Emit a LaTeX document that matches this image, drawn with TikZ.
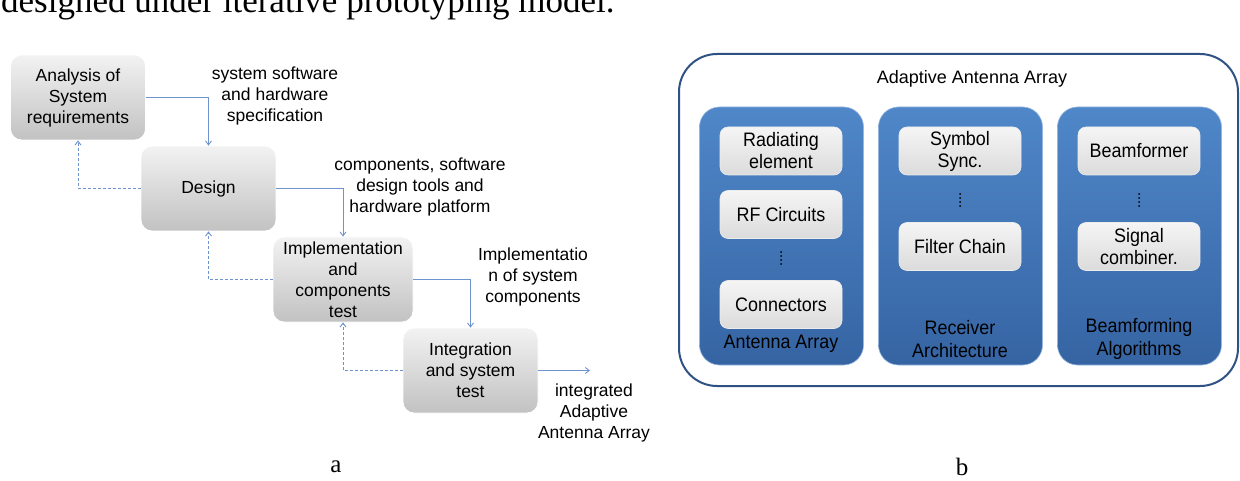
\documentclass[tikz,border=0pt]{standalone}
\usepackage{fontspec}
\setmainfont{Liberation Sans}
\newfontfamily\capserif{Liberation Serif}
\newfontfamily\narrowsans[FakeStretch=0.92]{Liberation Sans}
\usetikzlibrary{arrows.meta}
\definecolor{arrowblue}{HTML}{6F93CC}
\definecolor{outerblue}{HTML}{2D5283}
\definecolor{coltop}{HTML}{4F87C9}
\definecolor{colbot}{HTML}{3664A3}
\begin{document}
\begin{tikzpicture}[x=1pt,y=-1pt,
  stage/.style={rounded corners=11pt, top color=gray!10, bottom color=gray!48,
    draw=white, line width=0.8pt, minimum width=135pt, minimum height=85pt,
    align=center, font=\fontsize{17.5}{21}\selectfont, inner sep=0pt},
  lbl/.style={align=center, font=\fontsize{17.5}{21}\selectfont, inner sep=0pt},
  flow/.style={draw=arrowblue, line width=0.9pt, -{Straight Barb[length=4pt,width=6pt]}},
  back/.style={flow, dash pattern=on 3pt off 2pt},
  col/.style={rounded corners=20pt, top color=coltop, bottom color=colbot,
    draw=coltop!60!white, line width=0.6pt, minimum width=164pt, minimum height=258pt},
  item/.style={rounded corners=8pt, top color=gray!8, bottom color=gray!28,
    draw=gray!15, line width=0.6pt, minimum width=122pt, minimum height=48pt,
    align=center, font=\narrowsans\fontsize{19.5}{22}\selectfont, inner sep=0pt},
  collbl/.style={align=center, font=\narrowsans\fontsize{19.5}{23}\selectfont, inner sep=0pt},
  vdots/.style={line width=2pt, line cap=round, dash pattern=on 0pt off 4pt},
  letter/.style={font=\capserif\fontsize{25}{25}\selectfont, inner sep=0pt}
]
\useasboundingbox (0,0) rectangle (1240,481);
\clip (0,0) rectangle (1240,481);

% cut-off body text line
\node[anchor=base west, inner sep=0pt, font=\capserif\fontsize{35}{35}\selectfont] (bodytext) at (1,13) {designed under iterative prototyping model.};

% ---------- (a) ----------
\node[stage] (A) at (78,97.5) {Analysis of\\System\\requirements};
\node[stage] (D) at (208.5,188.5) {Design};
\node[stage, minimum width=140pt] (I) at (343,279.5) {Implementation\\and\\components\\test};
\node[stage] (G) at (470.5,370.5) {Integration\\and system\\test};
\coordinate (out) at (590,370.5);

\draw[flow] (A.east) -| (D.north);
\draw[flow] (D.east) -| (I.north);
\draw[flow] (I.east) -| (G.north);
\draw[flow] (G.east) -- (out);

\draw[back] (D.west) -| (A.south);
\draw[back] (I.west) -| (D.south);
\draw[back] (G.west) -| (I.south);

\node[lbl] (l1) at (275,96) {system software\\and hardware\\specification};
\node[lbl] (l2) at (420,187) {components, software\\design tools and\\hardware platform};
\node[lbl] (l3) at (533,277) {Implementatio\\n of system\\components};
\node[lbl] (l4) at (594,413) {integrated\\Adaptive\\Antenna Array};

\node[letter] (la) at (336,467) {a};

% ---------- (b) ----------
\node[draw=outerblue, line width=2pt, rounded corners=38pt,
      minimum width=559pt, minimum height=332pt] (outer) at (958.5,220) {};
\node[font=\fontsize{18}{22}\selectfont, inner sep=0pt] (title) at (972,79) {Adaptive Antenna Array};

\node[col] (c1) at (781.5,236) {};
\node[col] (c2) at (960.5,236) {};
\node[col] (c3) at (1139.5,236) {};

\node[item] (rad) at (781,151) {Radiating\\element};
\node[item] (rf) at (781,214.5) {RF Circuits};
\draw[vdots] (781,252) -- (781,265);
\node[item] (con) at (781,304.5) {Connectors};
\node[collbl] (ant) at (781,344) {Antenna Array};

\node[item] (sym) at (960,151) {Symbol\\Sync.};
\draw[vdots] (960,194) -- (960,207);
\node[item] (fil) at (960,246.5) {Filter Chain};
\node[collbl] (rec) at (960,339) {Receiver\\Architecture};

\node[item] (bf) at (1139,151) {Beamformer};
\draw[vdots] (1139,194) -- (1139,207);
\node[item] (sig) at (1139,246.5) {Signal\\combiner.};
\node[collbl] (bfa) at (1139,339) {Beamforming\\Algorithms};

\node[letter] (lb) at (962,467) {b};
\end{tikzpicture}
\end{document}
